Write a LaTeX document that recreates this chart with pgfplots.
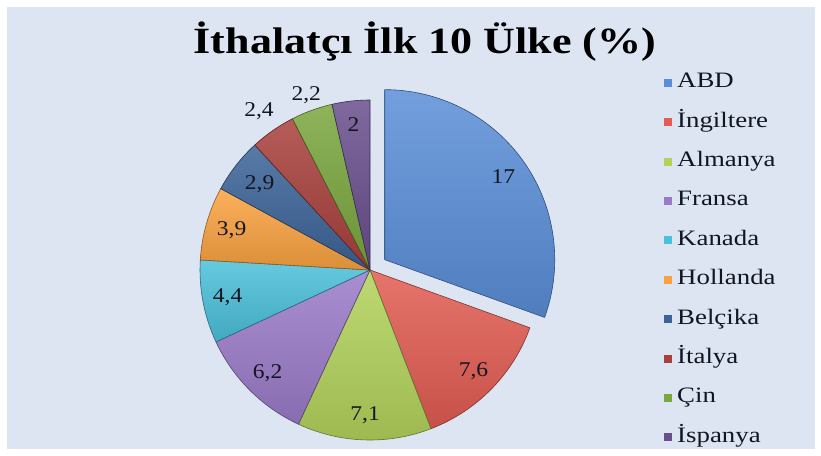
\documentclass[border=0pt]{standalone}
\usepackage{fontspec}
\setmainfont{Liberation Serif}
\usepackage{pgfplots}
\usepackage{pgfplotstable}
\pgfplotsset{compat=1.18}

\definecolor{bgc}{HTML}{DDE5F3}
\definecolor{cABD}{HTML}{5A8ED8}
\definecolor{cING}{HTML}{E25C52}
\definecolor{cALM}{HTML}{B2D25A}
\definecolor{cFRA}{HTML}{9A7BC9}
\definecolor{cKAN}{HTML}{4BC0DA}
\definecolor{cHOL}{HTML}{FAA240}
\definecolor{cBEL}{HTML}{3B6398}
\definecolor{cITA}{HTML}{A8403B}
\definecolor{cCIN}{HTML}{7AA63E}
\definecolor{cISP}{HTML}{684E8C}
\definecolor{txt}{HTML}{121620}

% name, value (%), label radius, colour, explode offset
\pgfplotstableread[col sep=comma]{
name,value,labr,col,ex
ABD,17,145,cABD,18
İngiltere,7.6,145,cING,0
Almanya,7.1,145,cALM,0
Fransa,6.2,145,cFRA,0
Kanada,4.4,145,cKAN,0
Hollanda,3.9,144,cHOL,0
Belçika,2.9,140,cBEL,0
İtalya,2.4,194,cITA,0
Çin,2.2,186,cCIN,0
İspanya,2,146,cISP,0
}\pietable

% precompute angles from the table
\gdef\total{0}%
\pgfplotsforeachungrouped \i in {0,...,9}{%
  \pgfplotstablegetelem{\i}{value}\of\pietable
  \pgfmathsetmacro\tmpt{\total+\pgfplotsretval}%
  \xdef\total{\tmpt}%
}%
\gdef\cum{0}%
\pgfplotsforeachungrouped \i in {0,...,9}{%
  \pgfplotstablegetelem{\i}{value}\of\pietable
  \let\v\pgfplotsretval
  \expandafter\xdef\csname val\i\endcsname{\v}%
  \pgfmathsetmacro\sa{90-360*(\cum/\total)}%
  \pgfmathsetmacro\tmpc{\cum+\v}%
  \xdef\cum{\tmpc}%
  \pgfmathsetmacro\ea{90-360*(\cum/\total)}%
  \pgfmathsetmacro\ma{(\sa+\ea)/2}%
  \expandafter\xdef\csname sa\i\endcsname{\sa}%
  \expandafter\xdef\csname ea\i\endcsname{\ea}%
  \expandafter\xdef\csname ma\i\endcsname{\ma}%
  \pgfplotstablegetelem{\i}{col}\of\pietable
  \expandafter\xdef\csname col\i\endcsname{\pgfplotsretval}%
  \pgfplotstablegetelem{\i}{labr}\of\pietable
  \expandafter\xdef\csname labr\i\endcsname{\pgfplotsretval}%
  \pgfplotstablegetelem{\i}{ex}\of\pietable
  \expandafter\xdef\csname ex\i\endcsname{\pgfplotsretval}%
  \pgfplotstablegetelem{\i}{name}\of\pietable
  \expandafter\xdef\csname name\i\endcsname{\pgfplotsretval}%
}%
\newcommand\vallabel[1]{\edef\tmpv{\csname val#1\endcsname}\pgfmathprintnumber[use comma, assume math mode=true]{\tmpv}}

\begin{document}%
\begin{tikzpicture}
\useasboundingbox (0pt,0pt) rectangle (821pt,455pt);
\fill[white] (0pt,0pt) rectangle (821pt,455pt);
\fill[bgc] (7pt,6pt) rectangle (815pt,448pt);
\begin{axis}[
  at={(0pt,0pt)}, anchor=south west,
  x=1pt, y=1pt, y dir=reverse,
  xmin=0, xmax=821, ymin=0, ymax=455,
  hide axis, clip=false,
  legend image code/.code={\fill[#1] (0pt,-4pt) rectangle (8pt,4pt);},
  legend cell align=left,
  legend style={at={(axis cs:664,72.5)}, anchor=north west, draw=none, fill=none,
    inner sep=0pt, row sep=19.4pt, column sep=5pt,
    font=\fontsize{22}{24}\selectfont,
    nodes={inner sep=0pt, text height=15pt, text depth=5pt, text=txt,
      font=\fontsize{22}{24}\selectfont}},
]
\node[anchor=base, xscale=1.19, text=black, font=\bfseries\fontsize{37}{40}\selectfont]
  at (axis cs:425,53) {İthalatçı İlk 10 Ülke (\%)};
\pgfplotsinvokeforeach{0,...,9}{%
  \shadedraw[top color=\csname col#1\endcsname!85!white, bottom color=\csname col#1\endcsname!88!black,
      draw=\csname col#1\endcsname!55!black, line width=0.6pt, line join=round]
    (axis cs:370,270) ++(\csname ma#1\endcsname:\csname ex#1\endcsname pt)
    -- ++(\csname sa#1\endcsname:170pt)
    arc[start angle=\csname sa#1\endcsname, end angle=\csname ea#1\endcsname, radius=170pt] -- cycle;
}
\pgfplotsinvokeforeach{0,...,9}{%
  \path (axis cs:370,270) ++(\csname ma#1\endcsname:\csname ex#1\endcsname pt)
    ++(\csname ma#1\endcsname:\csname labr#1\endcsname pt)
    node[xscale=1.12, text=txt, font=\fontsize{21}{23}\selectfont] {\vallabel{#1}};
}
\pgfplotsinvokeforeach{0,...,9}{%
  \addlegendimage{fill=\csname col#1\endcsname, draw=none}
  \addlegendentry{\scalebox{1.22}[1]{\csname name#1\endcsname}}
}
\end{axis}
\end{tikzpicture}%
\end{document}
